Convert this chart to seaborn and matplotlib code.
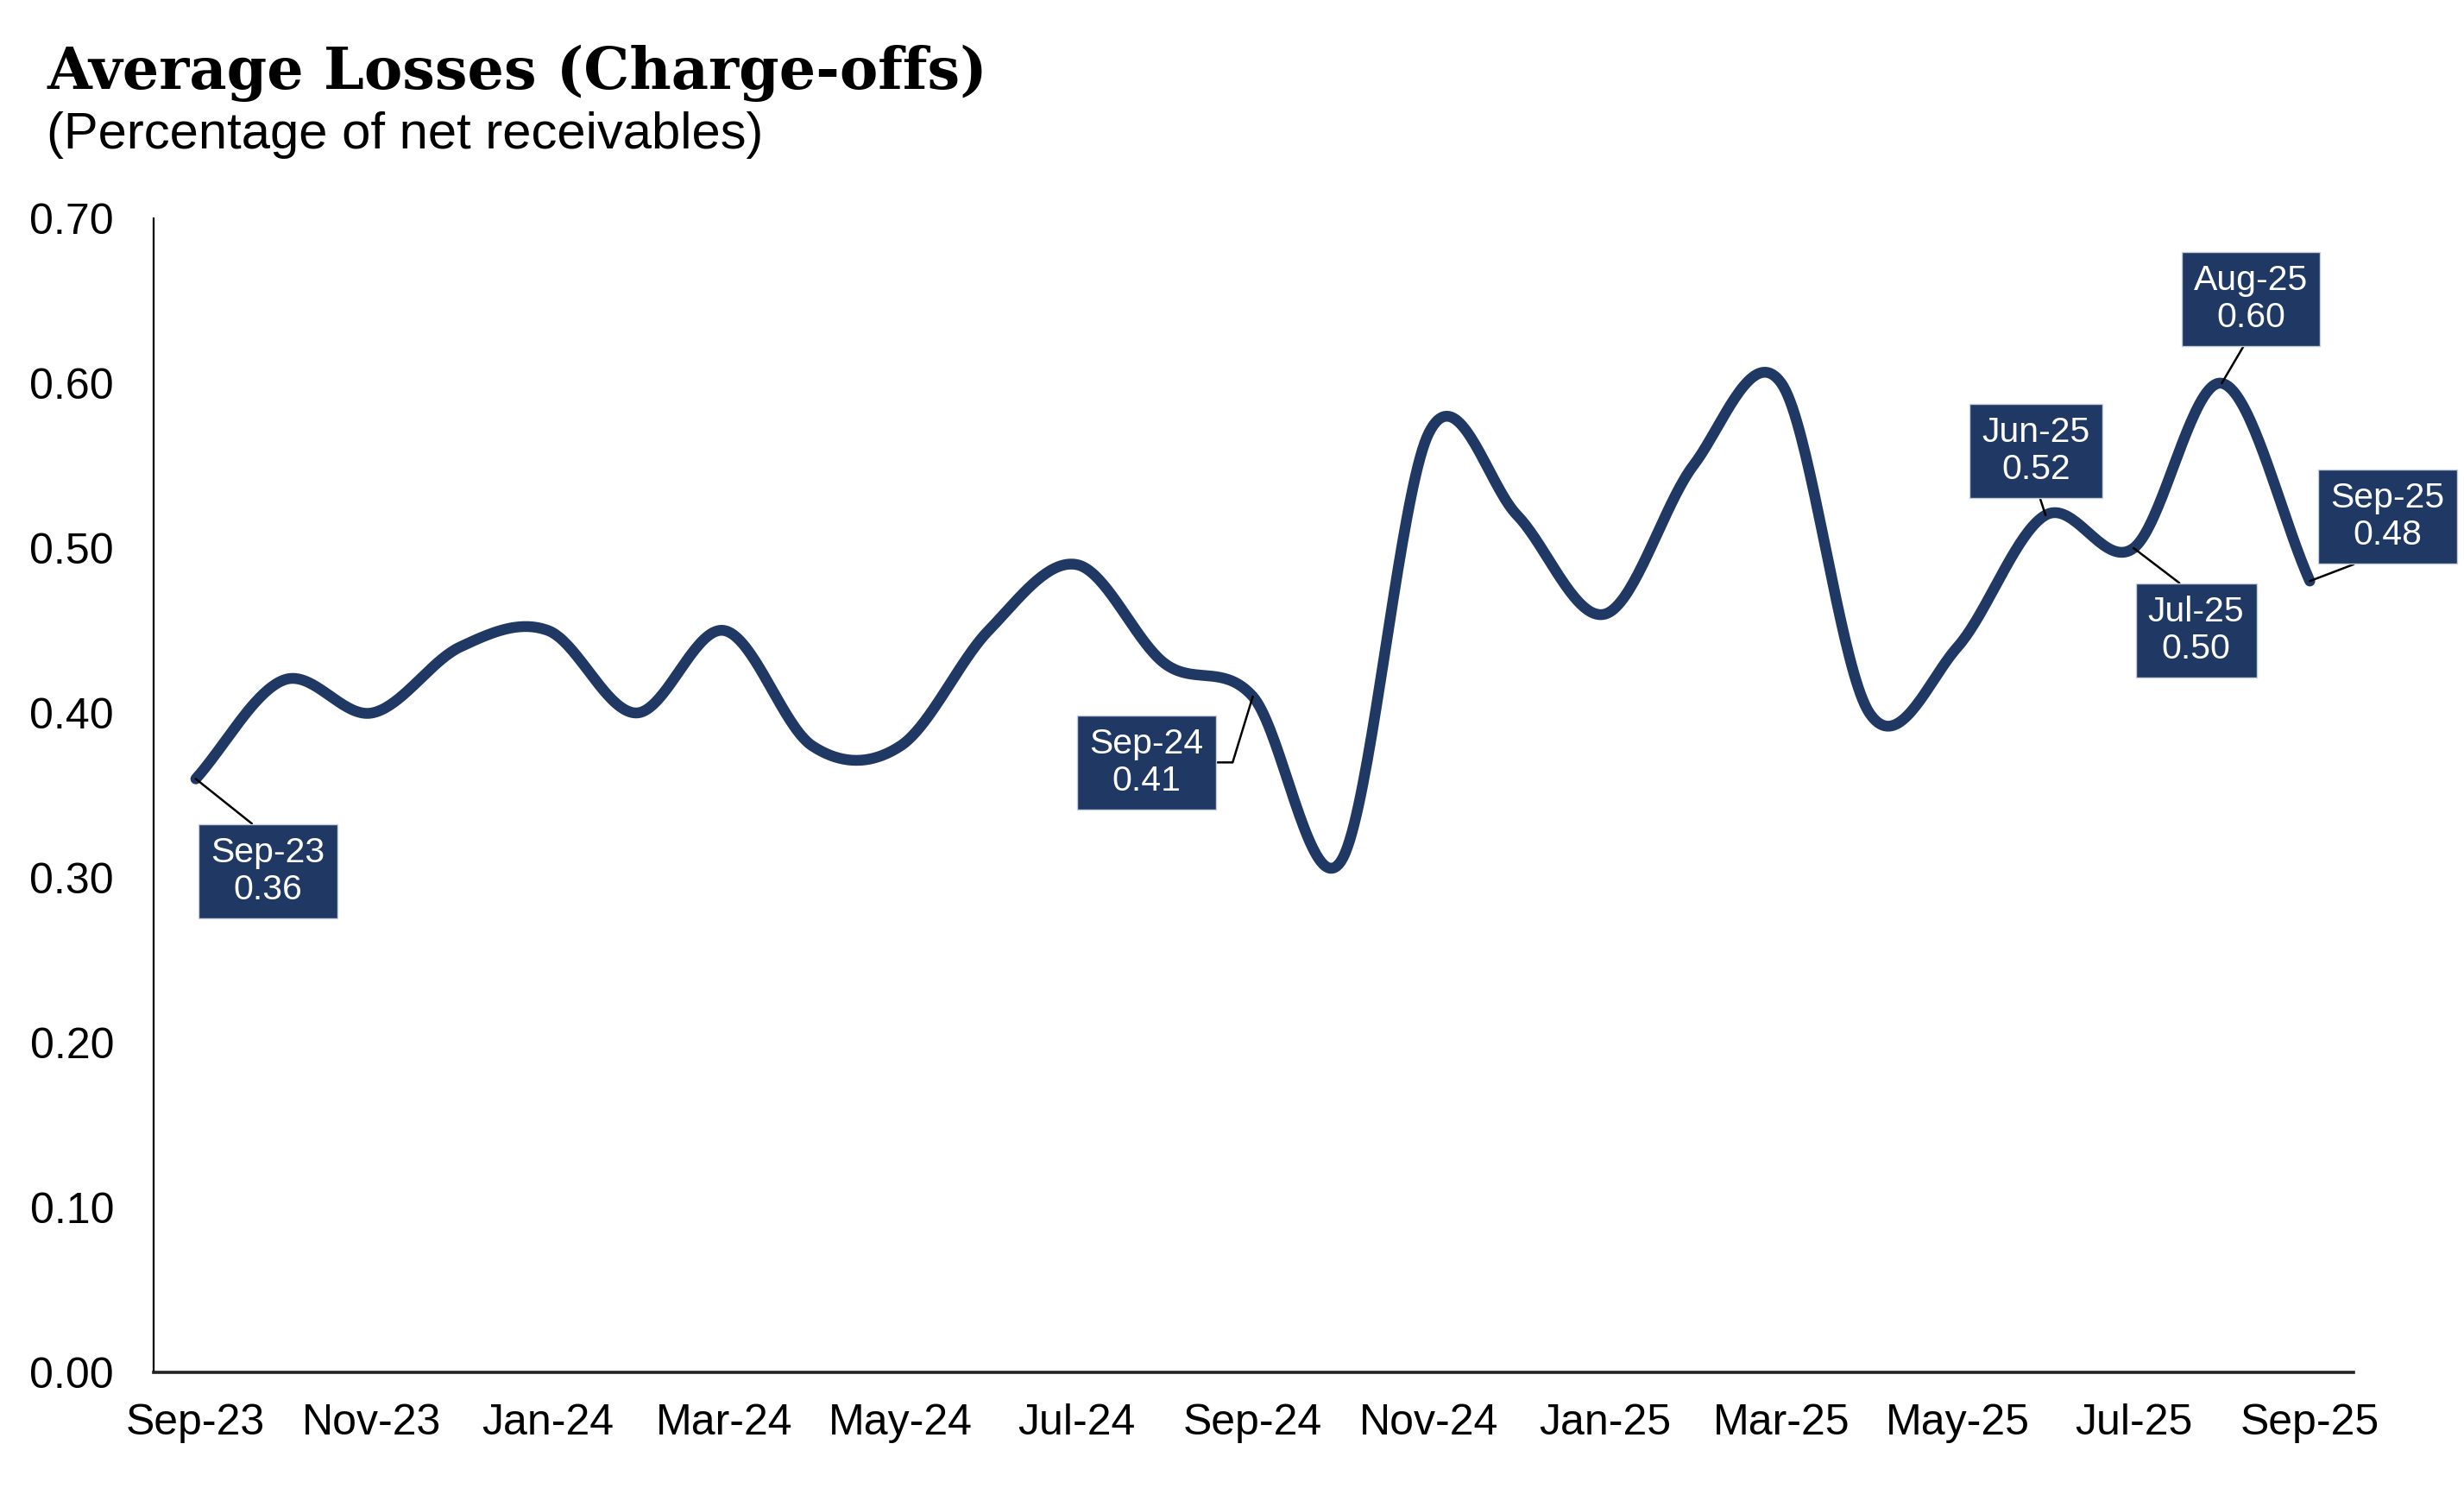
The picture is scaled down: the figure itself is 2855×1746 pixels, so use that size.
import numpy as np
import pandas as pd
import seaborn as sns
import matplotlib.pyplot as plt

# monthly average losses (charge-offs), % of net receivables
months = ["Sep-23", "Oct-23", "Nov-23", "Dec-23", "Jan-24", "Feb-24", "Mar-24", "Apr-24",
          "May-24", "Jun-24", "Jul-24", "Aug-24", "Sep-24", "Oct-24", "Nov-24", "Dec-24",
          "Jan-25", "Feb-25", "Mar-25", "Apr-25", "May-25", "Jun-25", "Jul-25", "Aug-25",
          "Sep-25"]
losses = [0.36, 0.42, 0.40, 0.44, 0.45, 0.40, 0.45, 0.38,
          0.38, 0.45, 0.49, 0.43, 0.41, 0.31, 0.57, 0.52,
          0.46, 0.55, 0.60, 0.40, 0.44, 0.52, 0.50, 0.60,
          0.48]
y_ticks = [0.0, 0.1, 0.2, 0.3, 0.4, 0.5, 0.6, 0.7]
labelled = ["Sep-23", "Sep-24", "Jun-25", "Jul-25", "Aug-25", "Sep-25"]

NAVY = "#1f3864"

sns.set_theme(style="white")
plt.rcParams["font.family"] = ["Liberation Sans", "DejaVu Sans"]
plt.rcParams["text.color"] = "black"
plt.rcParams["xtick.color"] = "black"
plt.rcParams["ytick.color"] = "black"

df = pd.DataFrame({"month": months, "loss": losses})
df["pos"] = np.arange(len(df))


def smooth_line(vals, n=40):
    # excel-like smoothed line (cubic hermite / catmull-rom through the points)
    p = np.asarray(vals, dtype=float)
    m = np.empty_like(p)
    m[1:-1] = (p[2:] - p[:-2]) / 2
    m[0] = p[1] - p[0]
    m[-1] = p[-1] - p[-2]
    t = np.linspace(0, 1, n, endpoint=False)
    h00 = 2 * t**3 - 3 * t**2 + 1
    h10 = t**3 - 2 * t**2 + t
    h01 = -2 * t**3 + 3 * t**2
    h11 = t**3 - t**2
    xs, ys = [], []
    for i in range(len(p) - 1):
        xs.append(i + t)
        ys.append(h00 * p[i] + h10 * m[i] + h01 * p[i + 1] + h11 * m[i + 1])
    xs.append([len(p) - 1])
    ys.append([p[-1]])
    return np.concatenate(xs), np.concatenate(ys)


sx, sy = smooth_line(df["loss"])
curve = pd.DataFrame({"x": sx, "y": sy})

fig = plt.figure(figsize=(28.55, 17.46), dpi=100)
ax = fig.add_axes([0.0623, 0.0893, 0.8930, 0.7658])

sns.lineplot(data=curve, x="x", y="y", ax=ax, color=NAVY, linewidth=9,
             sort=False, estimator=None, solid_capstyle="round")

ax.set_xlim(-0.48, 24.5)
ax.set_ylim(0, 0.7)
ax.set_yticks(y_ticks)
ax.set_yticklabels([f"{v:.2f}" for v in y_ticks], fontsize=36)
ax.set_xticks(df["pos"][::2])
ax.set_xticklabels(df["month"][::2], fontsize=36)
ax.tick_params(axis="y", length=0, pad=33)
ax.tick_params(axis="x", length=0, pad=26)
ax.set_xlabel("")
ax.set_ylabel("")
sns.despine(ax=ax)
ax.spines["left"].set_color("black")
ax.spines["left"].set_linewidth(1.6)
ax.spines["bottom"].set_color("#222222")
ax.spines["bottom"].set_linewidth(2.6)

# callout boxes: (box centre x, box centre y, attach point on box, connection)
callouts = {
    "Sep-23": (0.82, 0.304, (0.5, 1.0), "arc3"),
    "Sep-24": (10.79, 0.370, (1.0, 0.5), "angle,angleA=0,angleB=73,rad=0"),
    "Jun-25": (20.89, 0.559, (0.5, 0.0), "arc3"),
    "Jul-25": (22.71, 0.450, (0.5, 1.0), "arc3"),
    "Aug-25": (23.33, 0.651, (0.5, 0.0), "arc3"),
    "Sep-25": (24.88, 0.519, (0.5, 0.0), "arc3"),
}
for name in labelled:
    row = df[df["month"] == name].iloc[0]
    bx, by, rp, cs = callouts[name]
    ax.annotate(f"{name}\n{row['loss']:.2f}", xy=(row["pos"], row["loss"]),
                xytext=(bx, by), textcoords="data", ha="center", va="center",
                fontsize=29.5, color="white", linespacing=1.15,
                bbox=dict(boxstyle="square,pad=0.35", fc=NAVY, ec="#c9ced8", lw=1),
                arrowprops=dict(arrowstyle="-", color="black", lw=1.8,
                                shrinkA=0, shrinkB=0, relpos=rp, connectionstyle=cs),
                annotation_clip=False, zorder=5)

fig.text(0.019, 0.941, "Average Losses (Charge-offs)", fontsize=48, fontweight="bold",
         family=["DejaVu Serif"], va="baseline", ha="left")
fig.text(0.019, 0.9015, "(Percentage of net receivables)", fontsize=43,
         va="baseline", ha="left")

fig.savefig("out.png", dpi=100, facecolor="white")
